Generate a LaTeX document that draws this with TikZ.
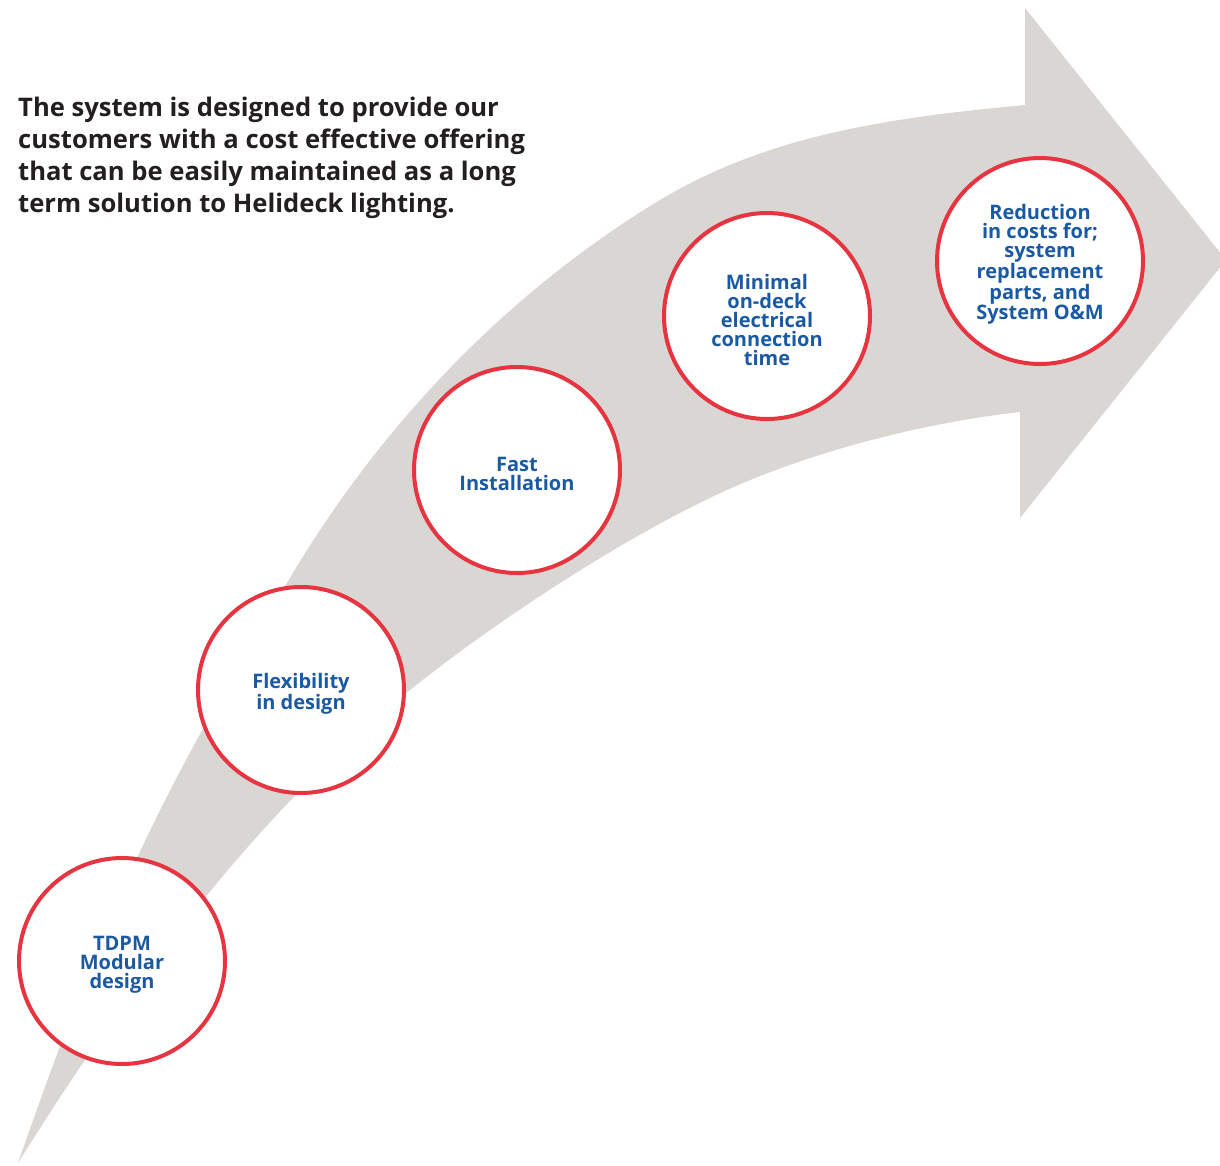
\documentclass[tikz,border=0pt]{standalone}
\usepackage{fontspec}
\setmainfont{Open Sans}
\definecolor{arrowgrey}{HTML}{D9D6D3}
\definecolor{ringred}{HTML}{E63540}
\definecolor{textblue}{HTML}{1B5AA3}
\definecolor{headgrey}{HTML}{231F20}
\begin{document}
\begin{tikzpicture}[x=1pt,y=-1pt,
  stepcircle/.style={circle, draw=ringred, line width=4pt, fill=white,
    minimum size=206pt, inner sep=0pt,
    label={[circlabel]center:#1}},
  circlabel/.style={align=center, text=textblue, inner sep=0pt, yshift=-3.5pt,
    font=\fontsize{20}{19}\selectfont\bfseries},
  headline/.style={anchor=base west, inner sep=0pt, text=headgrey,
    font=\fontsize{25.6}{32}\selectfont\bfseries}]
\useasboundingbox (0,0) rectangle (1220,1165);
\begin{scope}
\clip (0,0) rectangle (1220,1165);
\fill[arrowgrey] (18,1163)
  .. controls (117,880) and (160,798) .. (287,583)
  .. controls (378,428) and (506,293) .. (660,200)
  .. controls (771,133) and (898,117) .. (1025,105)
  -- (1025,8) -- (1226,260) -- (1020,518) -- (1020,412)
  .. controls (930,422) and (818,449) .. (727,490)
  .. controls (627,535) and (496,621) .. (410,690)
  .. controls (254,815) and (124,993) .. (18,1163)
  -- cycle;
\end{scope}
\node[headline] (h1) at (18,116) {The system is designed to provide our};
\node[headline] (h2) at (18,148) {customers with a cost effective offering};
\node[headline] (h3) at (18,180) {that can be easily maintained as a long};
\node[headline] (h4) at (18,212) {term solution to Helideck lighting.};
\node[stepcircle={TDPM\\Modular\\design}] (c1) at (122,961) {};
\node[stepcircle={Flexibility\\in design}] (c2) at (301,690) {};
\node[stepcircle={Fast\\Installation}] (c3) at (517,470) {};
\node[stepcircle={Minimal\\on-deck\\electrical\\connection\\time}] (c4) at (767,316) {};
\node[stepcircle={Reduction\\in costs for;\\system\\replacement\\parts, and\\System O\&M}] (c5) at (1040,261) {};
\end{tikzpicture}
\end{document}
